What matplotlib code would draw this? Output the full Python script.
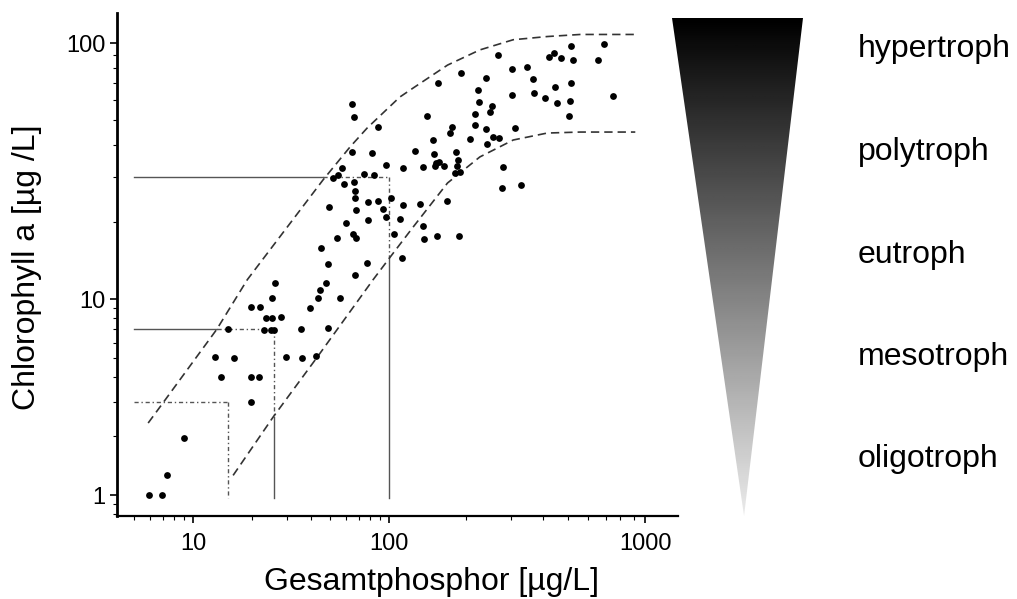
import matplotlib
matplotlib.use("Agg")
import matplotlib.pyplot as plt
import numpy as np
from matplotlib.ticker import LogLocator, NullFormatter
from matplotlib.patches import Polygon

plt.rcParams["font.family"] = ["Liberation Sans", "DejaVu Sans"]

# measured lakes: total phosphorus vs chlorophyll a (µg/L)
tp_ugl = [64.6, 65.8, 88.2, 65.0, 81.6, 96.2, 57.4, 55.1, 52.0, 74.5,
          83.8, 58.5, 66.5, 67.1, 67.1, 101.5, 78.3, 88.2, 49.4, 67.6,
          93.5, 96.2, 78.3, 110, 60.1, 65.3, 67.9, 54.1, 104, 44.9,
          49.0, 77.4, 67.1, 26.2, 47.5, 44.5, 25.2, 43.1, 56.2,
          513, 692, 419, 442, 469, 522, 651, 265, 191, 155,
          302, 345, 239, 366, 513, 223, 444, 369, 301, 406,
          748, 225, 454, 508, 251, 248, 217, 140, 505, 176,
          216, 238, 310, 173, 148, 207, 255, 269, 242, 126,
          149, 183, 185, 153, 157, 163, 151, 184, 135, 113,
          180, 189, 277, 276, 327, 113, 132, 168, 135, 137, 154, 188, 112,
          19.8, 22.0, 39.5, 23.6, 25.4, 28.1, 15.0, 23.0, 24.9, 25.9,
          35.6, 49.0, 13.0, 16.1, 29.8, 35.9, 42.5, 13.8, 19.8, 21.8,
          19.8, 8.97, 7.40, 5.94, 6.92]
chl_ugl = [57.6, 51.5, 47.1, 37.6, 37.2, 33.3, 32.6, 30.5, 29.6, 30.7,
           30.5, 28.1, 28.7, 26.4, 24.9, 24.9, 23.9, 24.2, 22.8, 22.3,
           22.4, 20.9, 20.4, 20.5, 19.9, 17.9, 17.3, 17.3, 17.9, 15.8,
           13.7, 13.8, 12.4, 11.5, 11.6, 10.8, 10.1, 10.1, 10.1,
           97.5, 99, 88.3, 91.6, 87.1, 85.9, 85.9, 89.8, 76.5, 69.7,
           79.4, 80.4, 73.1, 72.6, 70.0, 65.5, 67.1, 63.7, 62.5, 61.1,
           62.2, 59.0, 58.1, 59.5, 56.8, 53.6, 52.9, 51.8, 51.9, 46.9,
           47.7, 46.0, 46.6, 44.4, 41.7, 42.1, 43.1, 42.7, 40.5, 37.9,
           36.8, 37.6, 34.9, 33.9, 34.2, 33.1, 33.2, 33.2, 32.7, 32.5,
           31.0, 31.4, 32.7, 27.2, 27.8, 23.3, 23.6, 24.1, 19.3, 17.2, 17.7, 17.7, 14.4,
           9.07, 9.14, 9.03, 8.03, 8.03, 8.09, 7.0, 6.95, 6.95, 6.95,
           7.0, 7.08, 5.05, 5.0, 5.05, 5.0, 5.12, 4.02, 3.98, 4.02,
           2.99, 1.96, 1.27, 1.0, 1.0]

# envelope curves (dashed)
upper_tp = [5.9, 7.0, 13.2, 18.9, 46, 63.2, 77.3, 110, 124, 169, 226, 305, 414, 557, 914]
upper_chl = [2.33, 2.94, 7.0, 11.9, 29.2, 39.3, 46.6, 61.5, 66.7, 82, 94, 103, 106, 108, 108]
lower_tp = [16, 25.6, 43, 82.8, 101, 124, 169, 226, 305, 414, 557, 914]
lower_chl = [1.26, 2.5, 5.06, 11.9, 14.6, 19.1, 28.4, 35.9, 41.8, 44.5, 44.9, 44.9]

# trophic class boundaries
tp_bounds = [15, 26, 100]
chl_bounds = [3, 7, 30]
h_solid_end = [5, 13.2, 46]      # horizontal line solid up to here (outside band)
v_solid_top = [0.965, 2.5, 14.6]  # vertical line solid below here
line_x0 = 5
line_y0 = 0.965

classes = ["hypertroph", "polytroph", "eutroph", "mesotroph", "oligotroph"]

K = 196 / 256  # the lower decade of both axes is drawn shorter


def fwd_x(v):
    u = np.log10(np.clip(np.asarray(v, dtype=float), 1e-12, None))
    return np.where(u < 2, 2 + (u - 2) * K, u)


def inv_x(s):
    s = np.asarray(s, dtype=float)
    return 10 ** np.where(s < 2, 2 + (s - 2) / K, s)


def fwd_y(v):
    u = np.log10(np.clip(np.asarray(v, dtype=float), 1e-12, None))
    return np.where(u < 1, 1 + (u - 1) * K, u)


def inv_y(s):
    s = np.asarray(s, dtype=float)
    return 10 ** np.where(s < 1, 1 + (s - 1) / K, s)


fig = plt.figure(figsize=(10.17, 5.99), dpi=100)
ax = fig.add_axes([0.115, 0.1386, 0.552, 0.8397])
ax.set_xscale("function", functions=(fwd_x, inv_x))
ax.set_yscale("function", functions=(fwd_y, inv_y))

line_kw = dict(color="#555555", linewidth=1.0)
dot_ls = (0, (3, 2, 1, 2))
for tpb, chb, hx, vy in zip(tp_bounds, chl_bounds, h_solid_end, v_solid_top):
    ax.plot([line_x0, hx], [chb, chb], **line_kw)
    ax.plot([hx, tpb], [chb, chb], linestyle=dot_ls, **line_kw)
    ax.plot([tpb, tpb], [chb, vy], linestyle=dot_ls, **line_kw)
    ax.plot([tpb, tpb], [vy, line_y0], **line_kw)

curve_kw = dict(color="#333333", linewidth=1.2, linestyle=(0, (5, 3)))
ax.plot(upper_tp, upper_chl, **curve_kw)
ax.plot(lower_tp, lower_chl, **curve_kw)

ax.scatter(tp_ugl, chl_ugl, s=24, color="black", zorder=3, linewidths=0)

ax.set_xlim(4.09, 1346)
ax.set_ylim(0.782, 131)
ax.set_xticks([10, 100, 1000])
ax.set_xticklabels(["10", "100", "1000"])
ax.set_yticks([1, 10, 100])
ax.set_yticklabels(["1", "10", "100"])
for axis in (ax.xaxis, ax.yaxis):
    axis.set_minor_locator(LogLocator(base=10, subs=np.arange(2, 10)))
    axis.set_minor_formatter(NullFormatter())
ax.tick_params(which="major", length=5, width=1.2, labelsize=17, direction="out")
ax.tick_params(axis="x", which="major", pad=7)
ax.tick_params(which="minor", length=3, width=0.8, direction="out")
ax.spines["top"].set_visible(False)
ax.spines["right"].set_visible(False)
ax.spines["left"].set_linewidth(2)
ax.spines["bottom"].set_linewidth(1.6)

fig.text(432 / 1017, 1 - 590 / 599, "Gesamtphosphor [µg/L]", fontsize=23,
         ha="center", va="baseline")
fig.text(27 / 1017, 1 - 267 / 599, "Chlorophyll a [µg /L]", fontsize=23,
         rotation=90, ha="center", va="center")

# gradient wedge for trophic levels
tax = fig.add_axes([672 / 1017, 1 - 516 / 599, 131 / 1017, 498 / 599])
tax.set_xlim(0, 1)
tax.set_ylim(0, 1)
tax.axis("off")
grad = np.linspace(0.92, 0.0, 256).reshape(-1, 1)
img = tax.imshow(grad, cmap="gray", vmin=0, vmax=1, extent=[0, 1, 0, 1],
                 origin="lower", aspect="auto")
wedge = Polygon([(0, 1), (1, 1), (0.55, 0)], closed=True, transform=tax.transData,
                facecolor="none", edgecolor="none")
tax.add_patch(wedge)
img.set_clip_path(wedge)

baselines = [57, 160, 263, 365, 467]
for name, b in zip(classes, baselines):
    fig.text(858 / 1017, 1 - b / 599, name, fontsize=23, ha="left", va="baseline")

fig.savefig("out.png", dpi=100)
